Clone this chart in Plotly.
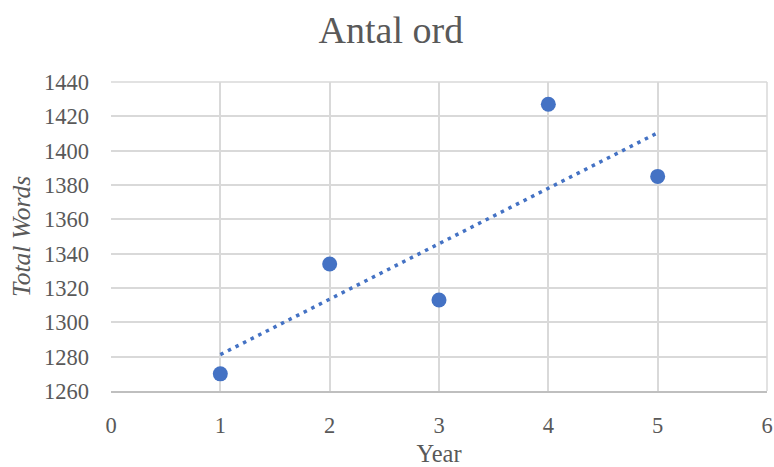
import numpy as np
import plotly.graph_objects as go

years = [1, 2, 3, 4, 5]
total_words = [1270, 1334, 1313, 1427, 1385]

blue = "#4472C4"
txt = "#595959"
grid = "#D9D9D9"
font_family = "Liberation Serif, Times New Roman, serif"

slope, intercept = np.polyfit(years, total_words, 1)
trend_x = [min(years), max(years)]
trend_y = [slope * x + intercept for x in trend_x]

fig = go.Figure()
fig.add_trace(go.Scatter(x=trend_x, y=trend_y, mode="lines",
                         line=dict(color=blue, width=3.5, dash="3.5px,5px"),
                         hoverinfo="skip", showlegend=False))
fig.add_trace(go.Scatter(x=years, y=total_words, mode="markers",
                         marker=dict(color=blue, size=15), showlegend=False))

fig.update_layout(
    width=774, height=467,
    margin=dict(l=111, r=7, t=82, b=76),
    paper_bgcolor="white", plot_bgcolor="white",
    font=dict(family=font_family, color=txt, size=22.5),
    title=dict(text="Antal ord", x=0.505, xanchor="center", y=0.937, yanchor="middle",
               font=dict(size=38, color=txt, family=font_family)),
    xaxis=dict(range=[0, 6], dtick=1, tick0=0, showgrid=True, gridcolor=grid, gridwidth=1.5,
               zeroline=False, showline=True, linecolor="#BFBFBF", linewidth=1.5,
               ticks="", ticklabelstandoff=13, automargin=False,
               title=dict(text="Year", font=dict(size=24.5, color=txt), standoff=11),
               tickfont=dict(size=22.5, color=txt)),
    yaxis=dict(range=[1260, 1440], dtick=20, tick0=1260, showgrid=True, gridcolor=grid, gridwidth=1.5,
               zeroline=False, showline=False,
               ticks="", ticklabelstandoff=21, automargin=False,
               title=dict(text="<i>Total Words</i>", font=dict(size=25.5, color=txt), standoff=6),
               tickfont=dict(size=22.5, color=txt)),
)
fig.add_shape(type="line", xref="paper", yref="paper", x0=0, x1=1, y0=1, y1=1,
              line=dict(color=grid, width=1.5), layer="below")
fig.add_shape(type="line", xref="paper", yref="paper", x0=1, x1=1, y0=0, y1=1,
              line=dict(color=grid, width=1.5), layer="below")

fig.write_html("out.html")
